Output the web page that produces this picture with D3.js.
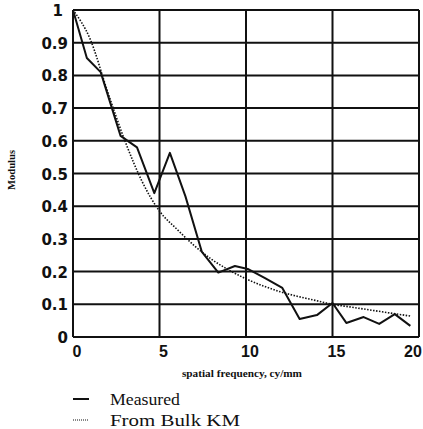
<!DOCTYPE html>
<html>
<head>
<meta charset="utf-8">
<script src="https://cdn.jsdelivr.net/npm/d3@7"></script>
<style>
  body { margin: 0; background: #fff; }
  svg { display: block; }
</style>
</head>
<body>
<div class="chart"></div>
<script>
// values
var measuredX = [0, 0.8, 1.6, 2.75, 3.7, 4.7, 5.6, 6.5, 7.45, 8.4, 9.36, 10.1, 11.1, 12.1, 13.1, 14.1, 15.0, 15.8, 16.8, 17.7, 18.6, 19.5];
var measuredY = [1.0, 0.853, 0.81, 0.615, 0.58, 0.44, 0.563, 0.43, 0.26, 0.197, 0.217, 0.208, 0.18, 0.15, 0.055, 0.067, 0.104, 0.043, 0.061, 0.04, 0.07, 0.034];
var bulkX = [0, 1, 2, 3, 4, 5, 6, 7, 8, 9, 10, 11, 12, 13, 14, 15, 16, 17, 18, 19, 19.5];
var bulkY = [1.0, 0.91, 0.75, 0.6, 0.475, 0.385, 0.33, 0.28, 0.238, 0.205, 0.178, 0.156, 0.138, 0.124, 0.112, 0.1, 0.092, 0.084, 0.076, 0.068, 0.064];
var xTicks = [0, 5, 10, 15, 20];
var yTicks = [0, 0.1, 0.2, 0.3, 0.4, 0.5, 0.6, 0.7, 0.8, 0.9, 1];
var yTickLabels = ['0', '0.1', '0.2', '0.3', '0.4', '0.5', '0.6', '0.7', '0.8', '0.9', '1'];
var legendNames = ['Measured', 'From Bulk KM'];

var width = 423,
  height = 429,
  ink = '#111';

var svg = d3.select('.chart')
  .append('svg')
  .attr('width', width)
  .attr('height', height);

var x = d3.scaleLinear().domain([0, 20]).range([73, 419]);
var y = d3.scaleLinear().domain([0, 1]).range([337, 10]);

// grid + frame
var grid = svg.append('g').attr('stroke', ink).attr('stroke-width', 2);
grid.selectAll('line.h')
  .data(yTicks)
  .enter()
  .append('line')
  .attr('class', 'h')
  .attr('x1', x(0)).attr('x2', x(20))
  .attr('y1', d => y(d)).attr('y2', d => y(d));
grid.selectAll('line.v')
  .data(xTicks)
  .enter()
  .append('line')
  .attr('class', 'v')
  .attr('x1', d => x(d)).attr('x2', d => x(d))
  .attr('y1', y(0)).attr('y2', y(1));

// tick labels
svg.append('g')
  .selectAll('text')
  .data(yTicks)
  .enter()
  .append('text')
  .attr('x', d => d === 1 ? 63 : 68)
  .attr('y', d => y(d) + 6)
  .attr('text-anchor', 'end')
  .attr('font-family', 'DejaVu Sans')
  .attr('font-weight', 'bold')
  .attr('font-size', 15)
  .attr('fill', ink)
  .text((d, i) => yTickLabels[i]);

svg.append('g')
  .selectAll('text')
  .data(xTicks)
  .enter()
  .append('text')
  .attr('x', d => Math.min(x(d) + 4, width - 10))
  .attr('y', 357)
  .attr('text-anchor', 'middle')
  .attr('font-family', 'Liberation Sans')
  .attr('font-weight', 'bold')
  .attr('font-size', 16)
  .attr('fill', ink)
  .text(d => d);

// axis titles
svg.append('text')
  .attr('x', 242)
  .attr('y', 377)
  .attr('text-anchor', 'middle')
  .attr('font-family', 'Liberation Serif')
  .attr('font-weight', 'bold')
  .attr('font-size', 10)
  .attr('textLength', 120)
  .attr('lengthAdjust', 'spacingAndGlyphs')
  .attr('fill', ink)
  .text('spatial frequency, cy/mm');

svg.append('text')
  .attr('transform', 'translate(15,170) rotate(-90)')
  .attr('text-anchor', 'middle')
  .attr('font-family', 'Liberation Serif')
  .attr('font-weight', 'bold')
  .attr('font-size', 11)
  .attr('textLength', 40)
  .attr('lengthAdjust', 'spacingAndGlyphs')
  .attr('fill', ink)
  .text('Modulus');

// data lines
var line = d3.line()
  .x(d => x(d[0]))
  .y(d => y(d[1]));

var bulk = bulkX.map((d, i) => [d, bulkY[i]]);
var measured = measuredX.map((d, i) => [d, measuredY[i]]);

svg.append('path')
  .datum(bulk)
  .attr('d', d3.line().curve(d3.curveMonotoneX).x(d => x(d[0])).y(d => y(d[1])))
  .attr('fill', 'none')
  .attr('stroke', ink)
  .attr('stroke-width', 1.6)
  .attr('stroke-dasharray', '1.5,1.5');

svg.append('path')
  .datum(measured)
  .attr('d', line)
  .attr('fill', 'none')
  .attr('stroke', ink)
  .attr('stroke-width', 2)
  .attr('stroke-linejoin', 'round');

// legend
var legend = svg.append('g')
  .selectAll('g')
  .data(legendNames)
  .enter()
  .append('g')
  .attr('transform', (d, i) => 'translate(0,' + (399 + i * 21) + ')');

legend.append('line')
  .attr('x1', 73).attr('x2', 89)
  .attr('y1', 0).attr('y2', 0)
  .attr('stroke', ink)
  .attr('stroke-width', (d, i) => i === 0 ? 2 : 1.2)
  .attr('stroke-dasharray', (d, i) => i === 0 ? null : '1,1');

legend.append('text')
  .attr('x', 110)
  .attr('y', 6)
  .attr('font-family', 'Liberation Serif')
  .attr('font-size', 17)
  .attr('textLength', (d, i) => i === 0 ? 70 : 130)
  .attr('lengthAdjust', 'spacingAndGlyphs')
  .attr('fill', ink)
  .text(d => d);
</script>
</body>
</html>
